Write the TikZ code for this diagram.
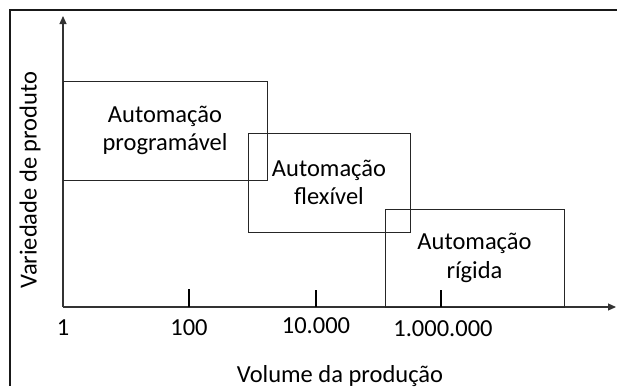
\documentclass[tikz,border=0pt]{standalone}
\usepackage{fontspec}
\setmainfont{Carlito}
\usetikzlibrary{arrows.meta}
\begin{document}
\begin{tikzpicture}[x=1pt,y=-1pt,
  lbl/.style={font=\fontsize{24.5}{28.5}\selectfont, text=black, inner sep=0pt, align=center},
  zone/.style={draw=black!85, line width=0.9pt, rectangle, inner sep=0pt, lbl},
  axis/.style={draw=black!80, line width=1.1pt, -{Triangle[length=8pt,width=7pt]}},
  tick/.style={draw=black, line width=1.1pt}]
\useasboundingbox (0,0) rectangle (617,386);
% frame
\draw[line width=1.6pt, black!90] (617,10) -- (10,10) -- (10,386);
% axes
\coordinate (O) at (63,307);
\coordinate (yend) at (63,16);
\coordinate (xend) at (616,307);
\draw[axis] (O) -- (yend);
\draw[axis] (O) -- (xend);
% zones
\node[zone, minimum width=204pt, minimum height=99pt] (prog) at (165,130.5) {Automação\\programável};
\node[zone, minimum width=162pt, minimum height=99pt] (flex) at (329,182.5) {Automação\\flexível};
\node[zone, minimum width=179pt, minimum height=98pt] (rig) at (474.5,258) {Automação\\rígida};
% ticks
\coordinate (t1a) at (189,289); \coordinate (t1b) at (189,307);
\coordinate (t2a) at (316,290); \coordinate (t2b) at (316,307);
\coordinate (t3a) at (441,290); \coordinate (t3b) at (441,307);
\draw[tick] (t1a) -- (t1b);
\draw[tick] (t2a) -- (t2b);
\draw[tick] (t3a) -- (t3b);
% tick labels
\node[lbl] (l1) at (63,328) {1};
\node[lbl] (l100) at (189,328) {100};
\node[lbl] (l10k) at (316,326) {10.000};
\node[lbl] (l1m) at (443,329) {1.000.000};
% axis titles
\node[lbl] (xt) at (340,376) {Volume da produção};
\node[lbl, rotate=90] (yt) at (30,180) {Variedade de produto};
\end{tikzpicture}
\end{document}
